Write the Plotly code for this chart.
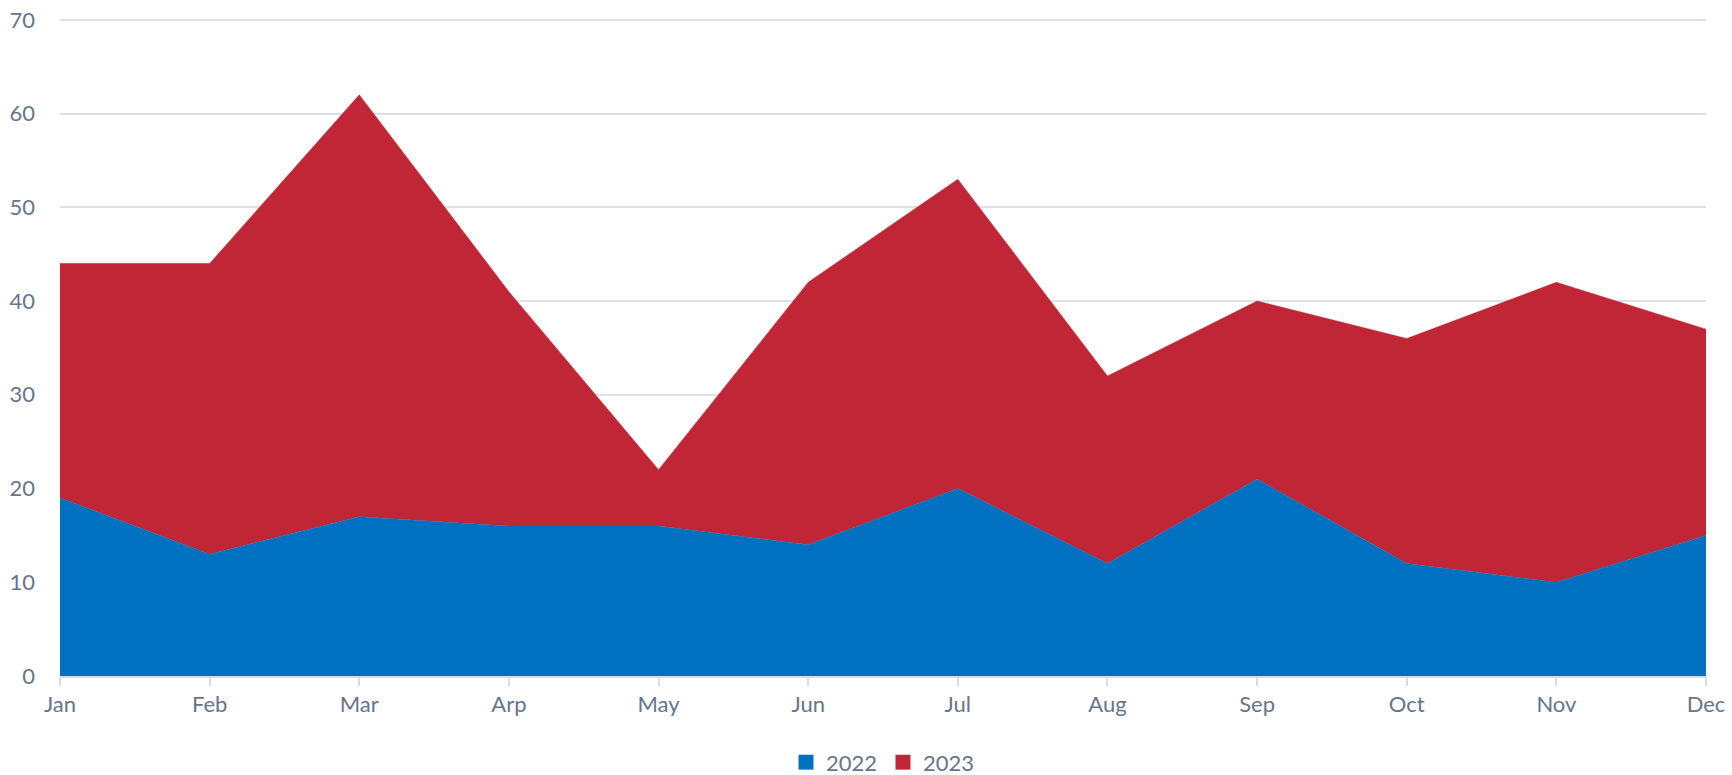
import plotly.graph_objects as go

months = ["Jan", "Feb", "Mar", "Arp", "May", "Jun", "Jul", "Aug", "Sep", "Oct", "Nov", "Dec"]
values_2022 = [19, 13, 17, 16, 16, 14, 20, 12, 21, 12, 10, 15]
values_2023 = [25, 31, 45, 25, 6, 28, 33, 20, 19, 24, 32, 22]
series_names = ["2022", "2023"]
series_colors = ["#0070c0", "#c12636"]
y_ticks = [0, 10, 20, 30, 40, 50, 60, 70]

font_family = "Lato, Source Sans Pro, Noto Sans, sans-serif"
label_color = "#66758c"

fig = go.Figure()
for name, vals, col in zip(series_names, [values_2022, values_2023], series_colors):
    fig.add_trace(go.Scatter(
        x=months, y=vals, name=name, stackgroup="one", showlegend=False,
        mode="lines", line=dict(width=0.5, color=col), fillcolor=col,
    ))
# legend-only entries with square swatches
for name, col in zip(series_names, series_colors):
    fig.add_trace(go.Scatter(
        x=[None], y=[None], name=name, mode="markers",
        marker=dict(symbol="square", size=15, color=col),
    ))

fig.update_layout(
    width=1732, height=775,
    margin=dict(l=60, r=26, t=17, b=99, autoexpand=False),
    plot_bgcolor="white", paper_bgcolor="white",
    font=dict(family=font_family, size=22, color=label_color),
    showlegend=True,
    legend=dict(orientation="h", x=0.5, xanchor="center", y=-0.131, yanchor="middle",
                traceorder="normal", itemwidth=30, tracegroupgap=0,
                entrywidth=52, entrywidthmode="pixels",
                font=dict(size=22, color=label_color)),
    xaxis=dict(
        type="category", range=[0, 11], showgrid=False, automargin=False,
        showline=True, linecolor="#d8dce4", linewidth=2,
        ticks="outside", ticklen=8, tickcolor="#d8dce4", tickwidth=2,
        tickfont=dict(size=22, color=label_color),
    ),
    yaxis=dict(
        range=[0, 70.3], tickvals=y_ticks, showgrid=True, gridcolor="#dde1e8", gridwidth=1.5,
        zeroline=False, showline=False, ticks="", ticklabelstandoff=24, automargin=False,
        tickfont=dict(size=22, color=label_color),
    ),
)

fig.write_html("out.html", config={"displayModeBar": False},
               post_script="document.body.style.margin='0';document.body.style.overflow='hidden';")
